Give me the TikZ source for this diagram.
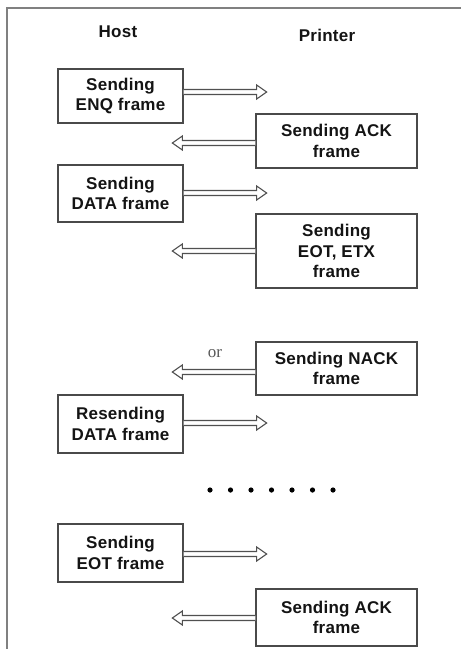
\documentclass[tikz,border=0pt]{standalone}
\usepackage{fontspec}
\usetikzlibrary{calc}
\newfontfamily\labfont{Liberation Sans}[LetterSpace=1.5]
\newfontfamily\orfont{Liberation Serif}
\definecolor{boxline}{HTML}{4A4A4A}
\definecolor{arrline}{HTML}{505050}
\definecolor{frameline}{HTML}{808080}
\tikzset{
  lab/.style={font=\labfont\bfseries\fontsize{17}{20.5}\selectfont, align=center, inner sep=0pt, text=black!92},
  framebox/.style={lab, draw=boxline, line width=1.3pt, fill=white},
  hostbox/.style={framebox, minimum width=125, minimum height=56},
  prbox/.style={framebox, minimum width=161, minimum height=55},
  arr/.style={draw=arrline, line width=1.1pt, fill=white, line join=miter},
}
\newcommand{\harrow}[2]{%
  \draw[arr] (#1) ++(0,-2.5) -- ++(#2*73,0) -- ++(0,-4.5) -- ++(#2*10,7) -- ++(-#2*10,7) -- ++(0,-4.5) -- ++(-#2*73,0);}
\begin{document}
\begin{tikzpicture}[x=1pt,y=-1pt]
\useasboundingbox (0,0) rectangle (461,649);
\fill[white] (0,0) rectangle (461,649);
\draw[frameline, line width=2pt] (6.5,650) -- (6.5,7.5) -- (462,7.5);

\node[lab] (host) at (118,32) {Host};
\node[lab] (printer) at (327,35) {Printer};

\node[hostbox, minimum height=54] (enq) at (120.5,96) {Sending\\ENQ frame};
\node[prbox, minimum height=54] (ack1) at (336.5,141) {Sending ACK\\frame};
\node[hostbox, minimum height=57] (data) at (120.5,193.5) {Sending\\DATA frame};
\node[prbox, minimum height=74] (eotetx) at (336.5,251) {Sending\\EOT, ETX\\frame};
\node[prbox, minimum height=53] (nack) at (336.5,368.5) {Sending NACK\\frame};
\node[hostbox, minimum height=58] (resend) at (120.5,424) {Resending\\DATA frame};
\node[hostbox, minimum height=58] (eot) at (120.5,553) {Sending\\EOT frame};
\node[prbox, minimum height=57] (ack2) at (336.5,617.5) {Sending ACK\\frame};

\coordinate (a1) at ($(enq.east)+(0,-4)$);
\coordinate (a2) at ($(ack1.west)+(0,2)$);
\coordinate (a3) at ($(data.east)+(0,-0.5)$);
\coordinate (a4) at ($(eotetx.west)+(0,0)$);
\coordinate (a5) at ($(nack.west)+(0,3.5)$);
\coordinate (a6) at ($(resend.east)+(0,-1)$);
\coordinate (a7) at ($(eot.east)+(0,1)$);
\coordinate (a8) at ($(ack2.west)+(0,0.5)$);

\harrow{a1}{1}
\harrow{a2}{-1}
\harrow{a3}{1}
\harrow{a4}{-1}
\harrow{a5}{-1}
\harrow{a6}{1}
\harrow{a7}{1}
\harrow{a8}{-1}

\node[font=\orfont\fontsize{17}{18}\selectfont, text=black!65, inner sep=0pt] (or) at (215,354) {or};

\foreach \i in {0,...,6} \fill[black] (210+\i*20.5,490) circle (2.6);
\end{tikzpicture}
\end{document}
